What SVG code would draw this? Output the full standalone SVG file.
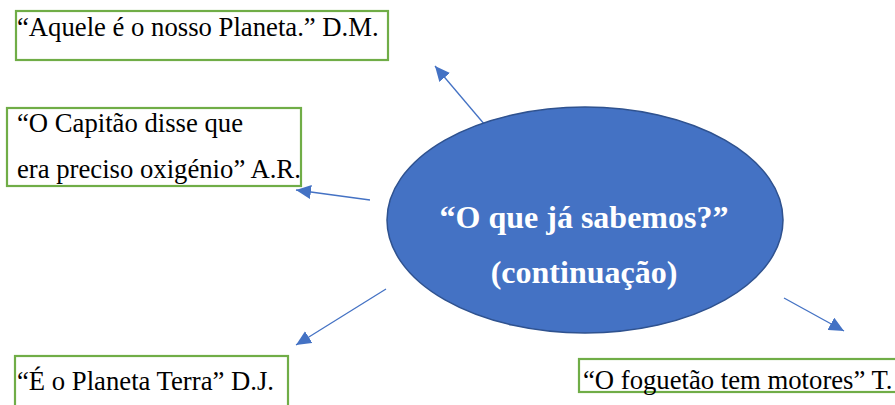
<svg xmlns="http://www.w3.org/2000/svg" width="895" height="405" viewBox="0 0 895 405">
<style>
.box{fill:#fff;stroke:#70AD47;stroke-width:2.2}
.t{font-family:'Liberation Serif','Times New Roman',Times,'DejaVu Serif',serif;font-size:26.7px;fill:#000}
.c{font-family:'Liberation Serif','Times New Roman',Times,'DejaVu Serif',serif;font-size:32px;font-weight:bold;fill:#fff;text-anchor:middle}
.conn{stroke:#4472C4;stroke-width:1.3;fill:none;marker-end:url(#ah)}
</style>
<defs>
<marker id="ah" markerUnits="userSpaceOnUse" markerWidth="16" markerHeight="14" refX="15" refY="7" orient="auto">
<path d="M0,0 L15,7 L0,14 Z" fill="#4472C4"/>
</marker>
</defs>
<rect width="895" height="405" fill="#fff"/>
<g id="connectors">
<line class="conn" x1="485" y1="125" x2="435" y2="66"/>
<line class="conn" x1="370" y1="200" x2="296" y2="190"/>
<line class="conn" x1="386" y1="289" x2="296" y2="345"/>
<line class="conn" x1="784" y1="298" x2="844" y2="331"/>
</g>
<g id="center">
<ellipse cx="585" cy="220" rx="198" ry="113" fill="#4472C4" stroke="#2F528F" stroke-width="1.5"/>
<text class="c" x="584" y="228">“O que já sabemos?”</text>
<text class="c" x="584" y="283">(continuação)</text>
</g>
<g id="n1">
<rect class="box" x="16" y="11" width="372" height="49"/>
<text class="t" x="17" y="36">“Aquele é o nosso Planeta.” D.M.</text>
</g>
<g id="n2">
<rect class="box" x="7" y="108" width="294" height="78"/>
<text class="t" x="17" y="132">“O Capitão disse que</text>
<text class="t" x="17" y="178">era preciso oxigénio” A.R.</text>
</g>
<g id="n3">
<rect class="box" x="15" y="356" width="273" height="60"/>
<text class="t" x="17" y="390">“É o Planeta Terra” D.J.</text>
</g>
<g id="n4">
<rect class="box" x="579" y="359" width="330" height="33"/>
<text class="t" x="583" y="389">“O foguetão tem motores” T.</text>
</g>
</svg>
